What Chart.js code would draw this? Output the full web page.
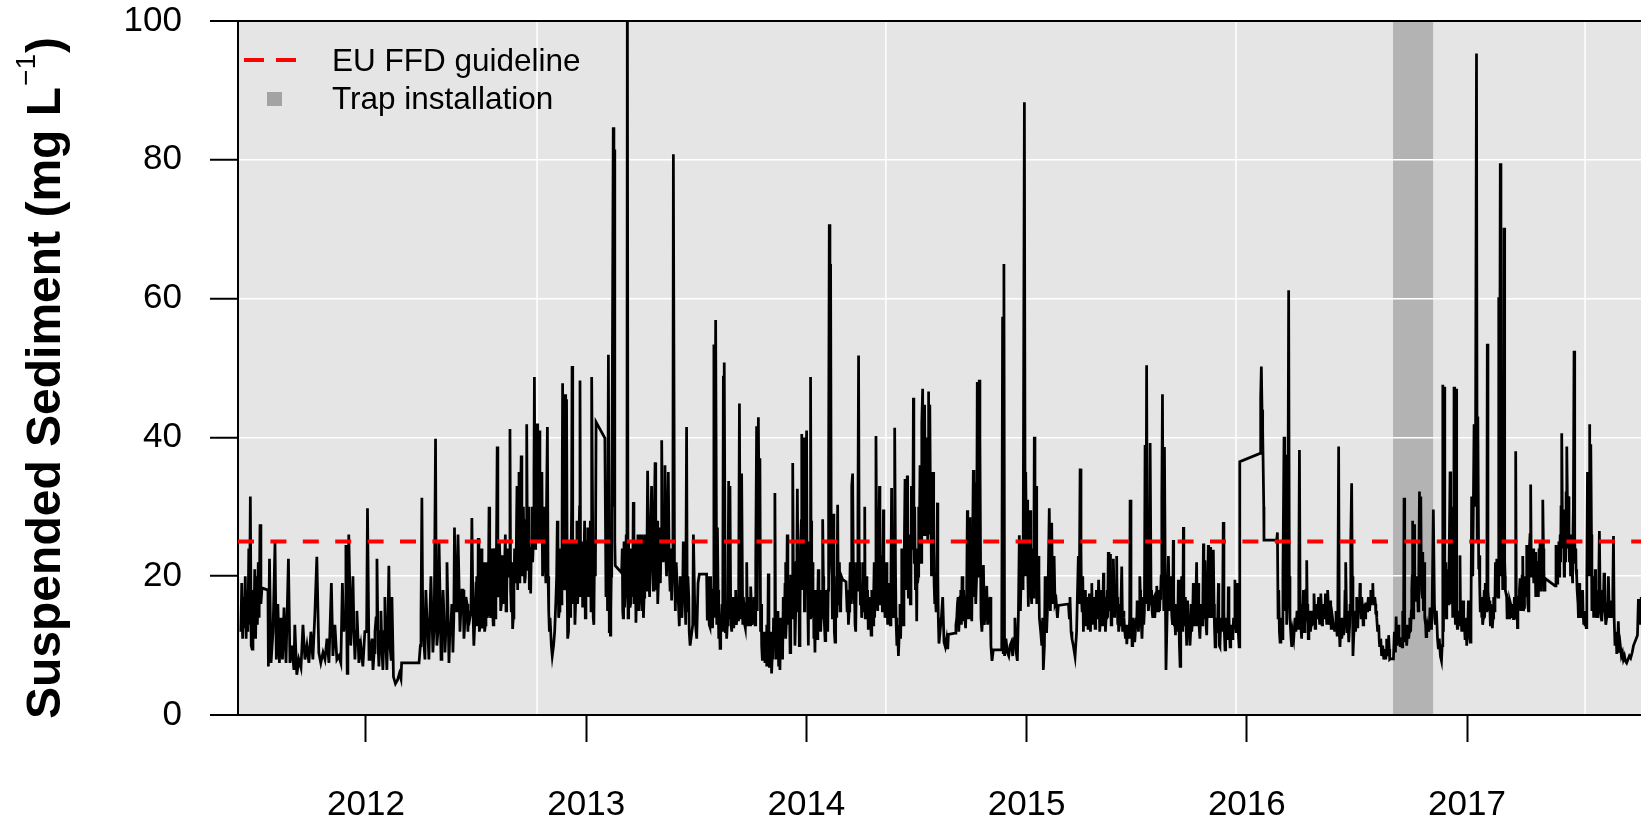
<!DOCTYPE html>
<html>
<head>
<meta charset="utf-8">
<title>Suspended sediment</title>
<script src="https://cdn.jsdelivr.net/npm/chart.js@4.4.0/dist/chart.umd.min.js"></script>
<style>
html, body { margin: 0; padding: 0; background: #ffffff; }
canvas { display: block; }
</style>
</head>
<body>
<canvas id="sedimentChart" width="1641" height="817" style="width:1641px;height:817px"></canvas>
<script>
// [decimal year, suspended sediment mg/L]
var obs2011 = [
  [2011.432,12],[2011.436,19],[2011.440,11],[2011.444,17],[2011.448,12.5],[2011.452,20],[2011.456,11],[2011.460,18],
  [2011.464,12],[2011.468,24],[2011.471,13],[2011.475,31.5],[2011.479,10],[2011.483,9.5],[2011.487,18],[2011.491,12],
  [2011.495,21],[2011.499,11],[2011.503,20],[2011.507,13],[2011.511,22],[2011.515,14],[2011.519,27.5],[2011.523,16],
  [2011.528,18.3],[2011.555,18],[2011.557,7],[2011.562,22.5],[2011.569,7.5],[2011.578,12],[2011.587,24.8],[2011.593,8],
  [2011.600,16],[2011.607,7.5],[2011.614,14],[2011.621,8],[2011.628,15.5],[2011.637,7.5],[2011.648,22.5],[2011.655,7.5],
  [2011.664,10],[2011.673,6.5],[2011.677,13],[2011.686,5.8],[2011.695,8],[2011.705,6.8],[2011.714,13],[2011.723,8],
  [2011.732,10],[2011.741,7.5],[2011.750,12],[2011.759,8],[2011.768,14.5],[2011.777,22.8],[2011.786,9],[2011.795,7.5],
  [2011.805,9],[2011.814,8],[2011.823,11],[2011.832,7.5],[2011.843,19],[2011.850,8.5],[2011.859,13],[2011.868,8],
  [2011.877,8.5],[2011.886,7.5],[2011.893,19],[2011.899,12],[2011.909,24.5],[2011.915,6],[2011.922,26],[2011.931,10],
  [2011.941,20],[2011.950,8],[2011.959,15],[2011.968,7.5],[2011.977,10],[2011.986,7],[2011.995,12],
  [2011.905,14],[2011.918,15],[2011.927,18],[2011.936,14],[2011.945,13],[2011.955,12],[2011.964,11],[2011.973,9]
];
var obs2012 = [
  [2012.007,29.8],[2012.014,8],[2012.023,10],[2012.032,6.5],[2012.041,12],[2012.050,22.5],[2012.059,7],[2012.068,15],
  [2012.077,6.5],[2012.086,17],[2012.095,6.5],[2012.104,21.5],[2012.114,8],[2012.118,17],[2012.125,5.5],[2012.134,4.5],
  [2012.143,5],[2012.152,6],[2012.159,5.2],[2012.162,7.5],[2012.241,7.5],[2012.247,10],[2012.254,31.3],[2012.260,12],
  [2012.268,8],[2012.277,14],[2012.286,8],[2012.295,20],[2012.304,9],[2012.316,39.8],[2012.322,10],[2012.332,24.8],
  [2012.341,8],[2012.350,18],[2012.359,9],[2012.368,22],[2012.377,7.5],[2012.386,13],[2012.395,9],[2012.402,27],
  [2012.409,15],[2012.418,26],[2012.427,12],[2012.436,18],[2012.445,11],[2012.454,17],[2012.463,12],[2012.472,14],
  [2012.481,28.4],[2012.490,10],[2012.500,19],[2012.506,13],[2012.510,25.5],[2012.515,12],[2012.521,18],[2012.527,12.5],
  [2012.533,20],[2012.539,12],[2012.545,22],[2012.551,14],[2012.559,30],[2012.563,16],[2012.569,24],[2012.575,15],
  [2012.581,22],[2012.587,14],[2012.596,38.7],[2012.603,18],[2012.609,22],[2012.615,16],[2012.621,20],[2012.627,17],
  [2012.633,26],[2012.639,17],[2012.645,21],[2012.654,41.2],[2012.660,15],[2012.666,12.4],[2012.672,18],[2012.678,20],
  [2012.686,33],[2012.690,21],[2012.695,35],[2012.699,19],[2012.705,37.4],[2012.712,20],[2012.718,22],[2012.724,20],
  [2012.730,41.9],[2012.736,21],[2012.742,18],[2012.748,17.5],[2012.754,30],[2012.760,25],[2012.765,48.7],[2012.771,28],
  [2012.777,42],[2012.781,30],[2012.787,41],[2012.793,25],[2012.799,35],[2012.805,22],[2012.811,26],[2012.817,19],
  [2012.824,41.5],[2012.830,15],[2012.836,14],[2012.842,10],[2012.846,8.5],[2012.852,10],[2012.857,12],[2012.863,17],
  [2012.869,28],[2012.875,14],[2012.881,22],[2012.887,16],[2012.893,47.8],[2012.899,20],[2012.904,46.2],[2012.908,26],
  [2012.911,45.5],[2012.916,11],[2012.920,12],[2012.927,20],[2012.931,18],[2012.936,50.3],[2012.942,16],[2012.949,13],
  [2012.955,22],[2012.961,16],[2012.967,25],[2012.972,48.2],[2012.978,20],[2012.984,15.5],[2012.990,22],[2012.996,14]
];
var more2012 = [
  [2012.003,12],[2012.018,9],[2012.028,11],[2012.037,9],[2012.046,14],[2012.055,10],[2012.064,12],[2012.073,9],
  [2012.082,12],[2012.091,10],[2012.100,13],[2012.109,10],
  [2012.250,14],[2012.257,18],[2012.264,10],[2012.272,18],[2012.281,12],[2012.290,14],[2012.300,14],[2012.310,13],
  [2012.319,18],[2012.327,12],[2012.337,16],[2012.345,12],[2012.355,14],[2012.364,13],[2012.372,16],[2012.381,12],
  [2012.390,16],[2012.399,14],[2012.406,18],[2012.413,17],[2012.422,20],[2012.432,16],[2012.441,18],[2012.450,14],
  [2012.459,16],[2012.467,15],[2012.477,15],[2012.486,15],[2012.495,14],
  [2012.503,20],[2012.508,14],[2012.513,21],[2012.518,13],[2012.524,24],[2012.530,13],[2012.536,22],[2012.542,13],
  [2012.548,19],[2012.555,15],[2012.561,26],[2012.566,14],[2012.572,21],[2012.578,13],[2012.584,24],[2012.590,16],
  [2012.593,25],[2012.599,17],[2012.606,25],[2012.612,15],[2012.618,23],[2012.624,16],[2012.630,22],[2012.636,15],
  [2012.642,24],[2012.650,20],[2012.657,18],[2012.663,22],[2012.669,14],[2012.675,24],[2012.681,19],[2012.684,28],
  [2012.688,18],[2012.693,28],[2012.697,22],[2012.702,30],[2012.708,22],[2012.715,30],[2012.721,19],[2012.727,28],
  [2012.733,24],[2012.739,30],[2012.745,22],[2012.751,24],[2012.757,22],[2012.763,35],[2012.768,24],[2012.774,35],
  [2012.779,25],[2012.784,36],[2012.790,28],[2012.796,30],[2012.802,20],[2012.808,30],[2012.814,22],[2012.820,30],
  [2012.827,20],[2012.833,12],[2012.866,20],[2012.872,25],[2012.878,15],[2012.884,24],[2012.890,22],[2012.896,30],
  [2012.902,18],[2012.906,32],[2012.914,18],[2012.924,25],[2012.929,14],[2012.934,30],[2012.939,22],[2012.945,25],
  [2012.952,16],[2012.958,28],[2012.964,18],[2012.970,30],[2012.975,17],[2012.981,25],[2012.987,17],[2012.993,28],
  [2012.999,20]
];
var obs2013 = [
  [2013.004,25],[2013.010,17],[2013.016,23],[2013.022,15],[2013.026,48.7],[2013.032,14],[2013.035,13],[2013.042,20],
  [2013.045,42.2],[2013.085,39.9],[2013.090,17],[2013.095,24],[2013.101,51.9],[2013.105,12],[2013.110,11.5],[2013.114,20],
  [2013.119,50],[2013.123,84.7],[2013.126,30],[2013.128,81.5],[2013.130,25],[2013.132,21.5],[2013.161,20.5],[2013.166,15],
  [2013.170,19],[2013.175,15.5],[2013.179,22],[2013.185,18],[2013.187,110],[2013.190,14],[2013.194,17],[2013.199,15.5],
  [2013.205,24],[2013.211,17],[2013.214,30.7],[2013.220,19],[2013.226,13.3],[2013.232,20],[2013.238,15],[2013.244,22],
  [2013.247,26],[2013.253,15],[2013.260,14],[2013.266,21],[2013.272,18],[2013.279,35.2],[2013.285,20],[2013.291,23],
  [2013.297,33],[2013.303,20],[2013.308,25],[2013.313,36.4],[2013.319,18],[2013.325,16],[2013.331,24],[2013.337,19],
  [2013.343,39.6],[2013.350,22],[2013.358,36],[2013.365,20],[2013.373,35],[2013.381,18],[2013.388,16.5],[2013.394,30],
  [2013.396,80.8],[2013.401,22],[2013.405,15],[2013.414,18],[2013.423,12.8],[2013.431,17],[2013.435,14],[2013.441,25],
  [2013.449,17],[2013.456,41.5],[2013.462,20],[2013.472,10],[2013.484,13],[2013.487,26],[2013.494,14],[2013.502,11],
  [2013.508,19],[2013.514,20.3],[2013.547,20.3],[2013.550,13.8],[2013.556,16],[2013.562,12.7],[2013.568,15],[2013.574,12.5],
  [2013.580,53.4],[2013.583,14],[2013.588,56.9],[2013.593,13],[2013.596,27],[2013.602,11],[2013.608,9.6],[2013.614,14],
  [2013.620,12],[2013.623,48.9],[2013.625,13],[2013.627,50.8],[2013.632,12],[2013.638,11],[2013.644,16],[2013.647,33.7],
  [2013.650,14],[2013.653,33],[2013.658,13],[2013.664,16],[2013.670,12.5],[2013.676,15],[2013.682,13],[2013.688,17],
  [2013.692,13.5],[2013.696,44.9],[2013.700,14],[2013.706,34.8],[2013.711,13],[2013.717,15],[2013.723,12.5],[2013.729,22],
  [2013.735,13],[2013.741,15],[2013.747,18.5],[2013.753,13],[2013.759,15],[2013.765,14],[2013.770,22],[2013.774,41.6],
  [2013.777,15],[2013.782,42.9],[2013.786,24],[2013.789,37],[2013.792,12],[2013.797,10],[2013.803,11],[2013.807,8],
  [2013.812,7.5],[2013.817,12],[2013.821,7],[2013.827,20.4],[2013.832,7],[2013.836,9],[2013.842,6],[2013.848,8],
  [2013.854,12],[2013.857,32],[2013.862,8],[2013.868,12],[2013.874,7],[2013.880,6.5],[2013.886,11],[2013.892,8],
  [2013.898,14],[2013.903,19],[2013.907,11],[2013.913,26],[2013.920,13],[2013.926,9],[2013.932,20],[2013.938,36.3],
  [2013.942,14],[2013.948,10],[2013.954,22],[2013.959,32.6],[2013.963,15],[2013.968,10],[2013.974,25],[2013.979,40.5],
  [2013.983,18],[2013.986,40],[2013.991,15],[2013.995,25]
];
var more2013 = [
  [2013.001,18],[2013.007,27],[2013.013,19],[2013.019,28],[2013.024,17],[2013.029,30],[2013.038,24],
  [2013.092,28],[2013.097,15],[2013.107,22],[2013.112,15],[2013.116,28],
  [2013.164,24],[2013.168,14],[2013.172,25],[2013.177,17],[2013.182,26],[2013.192,25],[2013.197,19],[2013.202,16],
  [2013.208,22],[2013.217,16],[2013.223,25],[2013.229,18],[2013.235,26],[2013.241,17],[2013.250,20],[2013.256,26],
  [2013.263,17],[2013.269,26],[2013.275,19],[2013.282,28],[2013.288,17],[2013.294,28],[2013.300,24],[2013.305,18],
  [2013.310,30],[2013.316,22],[2013.322,28],[2013.328,19],[2013.334,27],[2013.340,25],[2013.346,28],[2013.354,26],
  [2013.361,24],[2013.369,27],[2013.377,22],[2013.384,24],[2013.391,20],[2013.403,19],[2013.409,22],[2013.419,16],
  [2013.427,20],[2013.438,17],[2013.445,20],[2013.452,13],[2013.459,15],[2013.466,17],[2013.468,12],
  [2013.553,20],[2013.559,13],[2013.565,20],[2013.571,14],[2013.577,18],[2013.599,18],[2013.605,14],[2013.611,12],
  [2013.617,16],[2013.635,16],[2013.641,13],[2013.656,17],[2013.661,12],[2013.667,17],[2013.673,14],[2013.679,18],
  [2013.685,14],[2013.703,18],[2013.714,17],[2013.720,13],[2013.726,16],[2013.732,14],[2013.738,17],[2013.744,13],
  [2013.750,16],[2013.756,14],[2013.762,17],[2013.767,13],
  [2013.795,16],[2013.800,8],[2013.805,12],[2013.810,9],[2013.815,9.5],[2013.819,13],[2013.824,8],[2013.830,12],
  [2013.834,8],[2013.839,12],[2013.845,8.5],[2013.851,14],[2013.860,13],[2013.865,9],[2013.871,15],[2013.877,9],
  [2013.883,14],[2013.889,10],[2013.895,17],[2013.900,12],[2013.905,22],[2013.910,14],[2013.916,20],[2013.923,16],
  [2013.929,20],[2013.935,14],[2013.945,22],[2013.951,14],[2013.957,24],[2013.966,22],[2013.971,14],[2013.977,28],
  [2013.981,22],[2013.989,27],[2013.993,18],[2013.998,28]
];
var obs2014 = [
  [2014.001,41],[2014.006,17],[2014.009,10],[2014.015,20],[2014.019,48.7],[2014.024,18],[2014.030,14],[2014.034,11],
  [2014.039,9],[2014.045,15],[2014.050,11],[2014.054,21],[2014.059,15],[2014.065,12],[2014.069,18],[2014.074,28.2],
  [2014.079,15],[2014.085,10.7],[2014.091,16],[2014.097,12],[2014.101,36],[2014.104,70.7],[2014.107,40],[2014.110,65],
  [2014.113,22],[2014.118,14],[2014.122,29],[2014.127,12],[2014.130,10.5],[2014.135,18],[2014.139,14],[2014.142,30.3],
  [2014.147,19],[2014.153,15],[2014.159,20],[2014.165,19.5],[2014.180,19.2],[2014.185,15],[2014.191,13],[2014.197,19],
  [2014.201,16],[2014.206,33],[2014.210,34.8],[2014.215,16],[2014.221,13],[2014.225,12],[2014.231,18],[2014.234,28],
  [2014.237,51.8],[2014.240,20],[2014.245,16],[2014.251,14],[2014.257,22],[2014.262,15],[2014.265,30],[2014.269,19],
  [2014.275,14],[2014.281,12.5],[2014.287,17],[2014.294,11.5],[2014.300,15],[2014.306,18],[2014.310,14],[2014.316,40.2],
  [2014.321,17],[2014.325,24],[2014.332,33],[2014.336,16],[2014.340,23],[2014.345,15],[2014.350,29.6],[2014.354,18],
  [2014.357,14],[2014.363,22],[2014.369,13],[2014.375,16],[2014.381,13],[2014.387,32.7],[2014.392,15],[2014.398,19],
  [2014.402,41.4],[2014.407,14],[2014.411,10],[2014.418,8.5],[2014.422,12],[2014.428,11],[2014.433,24],[2014.437,14],
  [2014.443,18],[2014.448,34],[2014.452,20],[2014.458,34.5],[2014.463,17],[2014.468,22],[2014.472,16],[2014.477,33],
  [2014.481,24],[2014.486,45.7],[2014.490,22],[2014.495,18],[2014.501,13.5],[2014.505,19],[2014.510,30],[2014.516,36],
  [2014.521,22],[2014.525,42],[2014.528,47],[2014.533,28],[2014.537,44.7],[2014.542,30],[2014.546,40],[2014.551,25],
  [2014.554,46.6],[2014.558,35],[2014.561,44.7],[2014.566,28],[2014.571,22],[2014.575,35],[2014.580,19],[2014.586,17],
  [2014.592,22],[2014.595,30.6],[2014.599,14],[2014.602,10.3],[2014.613,14],[2014.619,17],[2014.625,10.5],[2014.631,9.8],
  [2014.637,11],[2014.642,9.5],[2014.645,11.6],[2014.675,11.8],[2014.679,13],[2014.686,16],[2014.692,12],[2014.698,17],
  [2014.704,13],[2014.707,20],[2014.711,13.5],[2014.717,15],[2014.723,12.5],[2014.728,18],[2014.731,29.5],[2014.735,14],
  [2014.740,28.5],[2014.745,15],[2014.751,13.5],[2014.755,25],[2014.758,35.3],[2014.763,17],[2014.766,33.5],[2014.770,16],
  [2014.776,48],[2014.781,20],[2014.785,48.3],[2014.788,40],[2014.793,14],[2014.797,12],[2014.804,21.6],[2014.808,13],
  [2014.813,15],[2014.819,18.6],[2014.823,13],[2014.828,15.5],[2014.834,17],[2014.838,10],[2014.843,7.8],[2014.849,9.4],
  [2014.887,9.4],[2014.891,57.4],[2014.894,9],[2014.897,65],[2014.900,8.5],[2014.906,11],[2014.913,9],[2014.919,8.5],
  [2014.925,10],[2014.931,10.5],[2014.937,8.5],[2014.943,11],[2014.947,14],[2014.953,9],[2014.958,7.8],[2014.963,15],
  [2014.967,25.9],[2014.972,15],[2014.978,25],[2014.984,18],[2014.990,88.3],[2014.993,30],[2014.997,35]
];
var more2014 = [
  [2014.003,22],[2014.012,25],[2014.017,14],[2014.021,28],[2014.027,22],[2014.032,18],[2014.036,14],[2014.042,18],
  [2014.048,12],[2014.052,17],[2014.057,12],[2014.062,18],[2014.067,14],[2014.072,16],[2014.077,20],[2014.082,13],
  [2014.088,18],[2014.094,14],[2014.099,18],[2014.116,20],[2014.120,16],[2014.125,20],[2014.133,14],[2014.137,20],
  [2014.145,16],[2014.150,22],[2014.156,16],[2014.188,18],[2014.194,15],[2014.199,22],[2014.204,18],[2014.213,22],
  [2014.218,19],[2014.223,17],[2014.228,22],[2014.243,22],[2014.248,19],[2014.254,17],[2014.260,19],[2014.267,14],
  [2014.272,20],[2014.278,18],[2014.284,15],[2014.290,16],[2014.297,18],[2014.303,13],[2014.308,22],[2014.313,20],
  [2014.319,25],[2014.323,15],[2014.328,22],[2014.334,20],[2014.338,22],[2014.343,20],[2014.347,22],[2014.352,22],
  [2014.360,17],[2014.366,18],[2014.372,19],[2014.378,18],[2014.384,20],[2014.390,20],[2014.395,14],[2014.400,25],
  [2014.405,20],[2014.414,13],[2014.425,16],[2014.430,15],[2014.435,20],[2014.440,13],[2014.445,25],[2014.450,18],
  [2014.455,25],[2014.460,22],[2014.465,26],[2014.470,20],[2014.475,22],[2014.479,28],[2014.484,30],[2014.488,28],
  [2014.492,30],[2014.498,24],[2014.503,22],[2014.508,20],[2014.513,25],[2014.518,28],[2014.523,30],[2014.530,32],
  [2014.535,26],[2014.539,35],[2014.544,26],[2014.548,30],[2014.553,28],[2014.556,30],[2014.560,26],[2014.563,32],
  [2014.568,20],[2014.573,20],[2014.578,24],[2014.583,16],[2014.589,15],[2014.597,20],
  [2014.683,14],[2014.689,17],[2014.695,14],[2014.701,18],[2014.714,18],[2014.720,14],[2014.726,17],[2014.733,19],
  [2014.738,18],[2014.743,20],[2014.748,17],[2014.753,20],[2014.761,22],[2014.768,24],[2014.773,20],[2014.778,30],
  [2014.783,28],[2014.791,22],[2014.800,14],[2014.995,20]
];
var obs2015 = [
  [2015.000,22],[2015.004,31],[2015.008,15.6],[2015.013,20],[2015.016,29.5],[2015.020,18],[2015.025,22.5],[2015.031,17],
  [2015.035,40.1],[2015.040,20],[2015.043,33],[2015.047,16],[2015.053,22.9],[2015.058,14],[2015.064,12],[2015.069,10],
  [2015.073,14],[2015.076,6.5],[2015.081,10],[2015.084,20],[2015.088,12],[2015.091,12],[2015.097,17],[2015.103,29.8],
  [2015.108,15],[2015.114,27.7],[2015.118,16],[2015.125,22.9],[2015.129,16],[2015.134,16.5],[2015.140,14],[2015.144,15.8],
  [2015.190,16],[2015.194,14],[2015.197,17],[2015.202,12],[2015.206,11],[2015.212,10],[2015.220,8.4],[2015.227,12],
  [2015.235,22.9],[2015.239,16],[2015.243,35.5],[2015.247,24],[2015.252,15],[2015.258,12],[2015.264,14],[2015.270,13],
  [2015.275,17],[2015.279,12.5],[2015.285,17.5],[2015.290,12],[2015.296,19],[2015.300,13],[2015.306,16],[2015.311,12.5],
  [2015.317,18],[2015.321,14],[2015.327,19.5],[2015.332,12],[2015.338,16],[2015.343,13],[2015.349,20.5],[2015.353,13],
  [2015.358,12],[2015.364,16],[2015.368,14],[2015.371,23.5],[2015.376,15],[2015.379,23.2],[2015.384,13],[2015.390,16],
  [2015.394,22.5],[2015.399,14],[2015.403,18],[2015.409,22.9],[2015.414,13],[2015.418,12],[2015.424,16],[2015.432,21.4],
  [2015.436,12],[2015.442,14],[2015.449,11],[2015.455,10.2],[2015.461,13],[2015.465,11],[2015.470,31],[2015.474,11],
  [2015.479,10],[2015.485,12],[2015.491,10.5],[2015.497,14],[2015.502,16.5],[2015.508,12],[2015.514,20],[2015.518,14],
  [2015.524,11],[2015.530,17],[2015.535,15],[2015.538,38.9],[2015.542,16],[2015.545,50.4],[2015.548,20],[2015.553,15],
  [2015.558,18],[2015.561,39.2],[2015.565,18],[2015.570,15],[2015.576,16.8],[2015.582,14],[2015.586,17],[2015.591,18.6],
  [2015.597,15],[2015.601,17],[2015.606,16.8],[2015.611,20],[2015.614,31],[2015.617,46.2],[2015.620,22],[2015.623,15],
  [2015.626,38.6],[2015.630,18],[2015.633,6.5],[2015.638,14],[2015.644,22.9],[2015.649,15],[2015.654,20],[2015.660,14],
  [2015.666,25.2],[2015.671,13],[2015.676,11.5],[2015.682,15],[2015.686,12],[2015.689,19.5],[2015.694,10],[2015.697,7],
  [2015.701,14],[2015.704,20],[2015.709,12],[2015.712,27.1],[2015.716,13],[2015.721,17],[2015.727,10],[2015.731,16.5],
  [2015.736,11],[2015.742,10],[2015.747,16],[2015.751,12],[2015.757,19],[2015.762,13],[2015.766,16],[2015.772,22],
  [2015.775,13],[2015.780,19],[2015.784,12.5],[2015.787,11],[2015.792,16],[2015.797,13],[2015.803,24.7],[2015.807,14],
  [2015.810,22.3],[2015.815,13],[2015.818,11.5],[2015.822,18],[2015.825,24.5],[2015.830,14],[2015.833,24.2],[2015.837,15],
  [2015.842,20],[2015.848,23.8],[2015.853,13],[2015.856,9.8],[2015.860,14],[2015.866,12],[2015.871,19],[2015.875,10],
  [2015.878,9.8],[2015.883,14],[2015.887,12],[2015.893,27.8],[2015.898,12],[2015.901,9.4],[2015.906,13],[2015.912,11],
  [2015.916,18.5],[2015.921,12],[2015.924,9.8],[2015.928,13],[2015.934,11],[2015.940,14],[2015.946,19.5],[2015.951,12],
  [2015.957,19],[2015.961,12],[2015.965,9.8],[2015.968,11],[2015.969,36.5]
];
var more2015 = [
  [2015.002,28],[2015.006,22],[2015.011,28],[2015.018,22],[2015.023,16],[2015.028,24],[2015.033,22],[2015.038,25],
  [2015.045,22],[2015.050,18],[2015.056,20],
  [2015.249,17],[2015.255,20],[2015.261,16],[2015.267,18],[2015.273,15],[2015.277,16],[2015.282,14],[2015.288,15],
  [2015.293,16],[2015.298,15],[2015.303,15],[2015.308,17],[2015.314,15],[2015.319,16],[2015.324,15],[2015.330,16],
  [2015.335,14],[2015.341,18],[2015.346,15],[2015.351,16],[2015.356,17],[2015.361,14],[2015.366,18],[2015.374,18],
  [2015.381,17],[2015.387,19],[2015.392,14],[2015.397,18],[2015.401,15],[2015.406,16],[2015.411,17],[2015.416,15],
  [2015.421,13],[2015.428,15],[2015.440,15],[2015.446,12],[2015.452,13],[2015.458,12],[2015.468,14],[2015.477,13],
  [2015.482,14],[2015.488,12.5],[2015.494,12],[2015.500,13],[2015.505,14],[2015.511,15],[2015.516,18],[2015.521,13],
  [2015.527,14],[2015.532,13],[2015.551,17],[2015.556,16],[2015.568,17],[2015.573,14],[2015.579,17],[2015.584,15],
  [2015.589,17],[2015.594,16],[2015.599,18],[2015.604,15],[2015.609,18],
  [2015.657,16],[2015.663,13],[2015.668,17],[2015.674,13],[2015.679,16],[2015.684,13],[2015.692,13],[2015.699,11],
  [2015.706,15],[2015.714,16],[2015.719,14],[2015.724,13],[2015.729,12],[2015.734,14],[2015.739,13],[2015.745,12],
  [2015.749,14],[2015.754,14],[2015.760,15],[2015.764,14],[2015.769,17],[2015.777,15],[2015.782,15],[2015.790,14],
  [2015.795,15],[2015.800,15],[2015.805,16],[2015.812,16],[2015.820,15],[2015.827,17],[2015.835,18],[2015.840,14],
  [2015.845,15],[2015.851,16],[2015.858,12],[2015.863,13],[2015.868,14],[2015.873,13],[2015.880,12],[2015.885,13],
  [2015.890,14],[2015.896,15],[2015.904,11],[2015.909,14],[2015.914,12],[2015.919,14],[2015.926,11],[2015.931,12],
  [2015.937,12],[2015.943,13],[2015.948,14],[2015.954,14],[2015.959,14],[2015.963,12],[2015.967,13]
];
var obs2016 = [
  [2016.060,37.7],[2016.063,45.8],[2016.066,50.2],[2016.069,44],[2016.072,41],[2016.077,30],[2016.078,25.2],[2016.136,25.2],
  [2016.139,26.3],[2016.142,14],[2016.145,18],[2016.148,12],[2016.151,10.5],[2016.155,14],[2016.160,11],[2016.164,20],
  [2016.169,40.1],[2016.172,15],[2016.175,30],[2016.178,37.5],[2016.181,13],[2016.186,20],[2016.190,61.2],[2016.193,20],
  [2016.196,14],[2016.201,11],[2016.204,9.8],[2016.208,12],[2016.213,11],[2016.219,14],[2016.223,12],[2016.228,15],
  [2016.233,12.5],[2016.236,20],[2016.239,38.2],[2016.242,16],[2016.245,13],[2016.249,11],[2016.254,14],[2016.257,18],
  [2016.261,12],[2016.266,14],[2016.269,18],[2016.272,22.3],[2016.275,14],[2016.279,11],[2016.284,13],[2016.289,12],
  [2016.295,14],[2016.299,13],[2016.305,17.5],[2016.310,12.5],[2016.314,15],[2016.320,14],[2016.326,17],[2016.331,13],
  [2016.336,17.5],[2016.342,13],[2016.346,16],[2016.352,14],[2016.357,17.5],[2016.363,13],[2016.367,18],[2016.372,13],
  [2016.378,16.5],[2016.383,12.5],[2016.389,14],[2016.393,13],[2016.399,12],[2016.405,15],[2016.410,11.5],[2016.414,14],
  [2016.417,38.7],[2016.420,12],[2016.423,9.8],[2016.428,13],[2016.432,11],[2016.437,14],[2016.441,11.5],[2016.446,18],
  [2016.450,22],[2016.455,12],[2016.460,13],[2016.464,10.5],[2016.469,16],[2016.473,25],[2016.476,33.4],[2016.479,20],
  [2016.482,8.5],[2016.485,11],[2016.490,14],[2016.494,12],[2016.499,17],[2016.504,12.5],[2016.508,15],[2016.514,19],
  [2016.519,14],[2016.523,17],[2016.528,13],[2016.532,16],[2016.537,14],[2016.541,16],[2016.546,15],[2016.552,17],
  [2016.557,15],[2016.563,18],[2016.567,16.5],[2016.572,19],[2016.576,16],[2016.581,17],[2016.586,14.5],[2016.590,14],
  [2016.594,12],[2016.599,13],[2016.603,10],[2016.608,11],[2016.612,8.5],[2016.617,10],[2016.622,8],[2016.626,9],
  [2016.631,8],[2016.635,11],[2016.640,8.5],[2016.644,11.5],[2016.649,8],[2016.653,8.1],[2016.666,8.1],[2016.670,12],
  [2016.675,9],[2016.678,14.2],[2016.682,10],[2016.687,13],[2016.691,11],[2016.696,10],[2016.700,11],[2016.705,9.8],
  [2016.709,15],[2016.714,31.3],[2016.717,10.5],[2016.722,12],[2016.726,10],[2016.731,13],[2016.735,11],[2016.740,14],
  [2016.744,12],[2016.749,18],[2016.753,28],[2016.756,14],[2016.760,27.5],[2016.764,17],[2016.769,16.5],[2016.773,20],
  [2016.778,15],[2016.784,32.2],[2016.787,20],[2016.790,31.5],[2016.794,18],[2016.799,23.5],[2016.802,15],[2016.805,22],
  [2016.809,14],[2016.814,11.3],[2016.820,13],[2016.826,12],[2016.832,15.5],[2016.837,12.5],[2016.841,14],[2016.847,29.6],
  [2016.852,16],[2016.856,13],[2016.861,15],[2016.866,11],[2016.870,9.5],[2016.874,11],[2016.879,8.5],[2016.884,7.8],
  [2016.887,10],[2016.890,47.6],[2016.893,12],[2016.897,47.3],[2016.902,18],[2016.906,14],[2016.911,21],[2016.915,16],
  [2016.920,26],[2016.923,35.1],[2016.926,16],[2016.931,30],[2016.935,14],[2016.938,18],[2016.941,47.3],[2016.944,20],
  [2016.947,13],[2016.950,47],[2016.953,14],[2016.956,12.5],[2016.961,15],[2016.965,13],[2016.968,23],[2016.973,14],
  [2016.977,12],[2016.982,16.5],[2016.986,12],[2016.991,11],[2016.996,14],[2016.999,10]
];
var more2016 = [
  [2016.247,12],[2016.251,15],[2016.259,15],[2016.264,13],[2016.277,16],[2016.282,14],[2016.287,15],[2016.292,13],
  [2016.297,15],[2016.302,14],[2016.308,15],[2016.312,14],[2016.317,16],[2016.323,15],[2016.329,14],[2016.334,16],
  [2016.339,15],[2016.344,14],[2016.349,16],[2016.355,15],[2016.360,15],[2016.365,15],[2016.370,16],[2016.375,14],
  [2016.381,15],[2016.386,13],[2016.391,14],[2016.396,13],[2016.402,13],[2016.407,13],[2016.412,12],[2016.426,12],
  [2016.430,14],[2016.435,12],[2016.439,13],[2016.444,14],[2016.448,15],[2016.453,14],[2016.458,15],[2016.462,14],
  [2016.467,13],[2016.471,15],[2016.488,13],[2016.492,15],[2016.497,14],[2016.502,14],[2016.506,16],[2016.511,15],
  [2016.516,16],[2016.521,15],[2016.526,15],[2016.530,14],[2016.535,15],[2016.539,15],[2016.544,16],[2016.549,16],
  [2016.555,16],[2016.560,16],[2016.565,17],[2016.570,17],[2016.574,17],[2016.579,16],[2016.584,16],[2016.588,15],
  [2016.592,13],[2016.596,12.5],[2016.601,11],[2016.606,10],[2016.610,10],[2016.615,9],[2016.620,9],[2016.624,8.5],
  [2016.628,9.5],[2016.633,9],[2016.638,9.5],[2016.642,9],[2016.647,9.5],
  [2016.702,11],[2016.707,12],[2016.712,13],[2016.719,13],[2016.724,12],[2016.729,11.5],[2016.733,12],[2016.738,12],
  [2016.742,13],[2016.747,15],[2016.751,20],[2016.758,18],[2016.762,22],[2016.766,18],[2016.771,18],[2016.776,17],
  [2016.781,20],[2016.792,22],[2016.797,17],[2016.807,16],[2016.812,13],[2016.817,12],[2016.823,12.5],[2016.829,13],
  [2016.835,13],[2016.839,13],
  [2016.899,16],[2016.904,22],[2016.908,16],[2016.913,17],[2016.918,20],[2016.928,20],[2016.933,20],[2016.940,16],
  [2016.958,14],[2016.963,13],[2016.970,16],[2016.975,15],[2016.979,14],[2016.984,13],[2016.988,13],[2016.993,13],
  [2016.998,12]
];
var obs2017 = [
  [2017.003,12],[2017.006,16.5],[2017.011,12],[2017.015,10.5],[2017.018,14],[2017.021,31.5],[2017.026,20],[2017.029,31],
  [2017.032,41.9],[2017.035,33],[2017.038,30],[2017.043,95.3],[2017.046,25],[2017.049,43],[2017.053,21],[2017.058,18],
  [2017.062,16],[2017.067,14],[2017.071,13],[2017.076,16],[2017.080,14],[2017.083,19],[2017.088,15],[2017.092,53.5],
  [2017.095,18],[2017.099,15],[2017.102,16.5],[2017.106,13],[2017.111,14],[2017.115,12.5],[2017.120,16],[2017.124,15],
  [2017.129,22],[2017.132,18],[2017.136,22.5],[2017.141,17],[2017.144,60.2],[2017.147,20],[2017.151,79.5],[2017.154,25],
  [2017.158,20],[2017.162,18],[2017.165,25],[2017.168,70.2],[2017.171,22],[2017.174,18],[2017.177,17.5],[2017.182,14],
  [2017.186,16],[2017.191,14],[2017.195,16.5],[2017.200,14],[2017.205,15],[2017.211,13.9],[2017.215,17],[2017.218,14],
  [2017.221,38],[2017.224,15],[2017.229,12.6],[2017.233,16],[2017.238,18],[2017.241,19.7],[2017.245,15],[2017.250,20],
  [2017.253,22.9],[2017.256,15],[2017.259,15.5],[2017.264,20],[2017.268,18],[2017.271,24.5],[2017.276,16],[2017.279,15],
  [2017.283,24],[2017.286,26],[2017.289,33.2],[2017.292,20],[2017.295,22],[2017.298,22.9],[2017.303,19],[2017.306,22],
  [2017.309,23.5],[2017.313,17],[2017.317,21],[2017.320,22.2],[2017.324,17],[2017.329,22],[2017.332,25],[2017.336,18],
  [2017.341,24],[2017.344,31],[2017.347,24],[2017.351,18],[2017.354,19.7],[2017.362,19.5],[2017.400,18.6],[2017.404,24.5],
  [2017.409,19],[2017.412,23],[2017.415,22.9],[2017.419,20],[2017.423,26],[2017.427,30],[2017.430,40.6],[2017.433,28],
  [2017.438,29.6],[2017.441,20],[2017.445,28],[2017.450,32],[2017.453,38.7],[2017.456,30],[2017.460,31.5],[2017.465,22],
  [2017.468,26],[2017.473,22],[2017.477,21],[2017.480,23],[2017.483,30],[2017.486,52.5],[2017.489,25],[2017.492,22],
  [2017.495,21],[2017.500,18],[2017.504,16],[2017.509,19],[2017.513,15],[2017.518,17.5],[2017.522,16],[2017.527,15],
  [2017.532,14],[2017.536,13],[2017.541,12.6],[2017.544,20],[2017.547,35],[2017.550,22],[2017.553,30],[2017.556,41.9],
  [2017.559,27],[2017.562,39],[2017.565,26],[2017.568,20],[2017.571,16],[2017.574,14],[2017.578,17],[2017.582,21],
  [2017.586,15],[2017.589,16.5],[2017.594,14],[2017.598,19],[2017.601,26.5],[2017.606,16],[2017.609,14],[2017.612,13.5],
  [2017.616,18],[2017.622,20.5],[2017.627,15],[2017.631,13],[2017.636,16],[2017.642,20],[2017.647,14],[2017.653,16.5],
  [2017.657,14],[2017.662,18],[2017.665,25.8],[2017.668,14],[2017.672,10],[2017.677,12],[2017.680,8.8],[2017.684,10],
  [2017.687,13.5],[2017.692,9],[2017.696,10],[2017.701,8.5],[2017.706,9],[2017.710,8],[2017.715,8.5],[2017.719,7.8],
  [2017.725,7.5],[2017.731,8],[2017.737,8.5],[2017.743,8.2],[2017.750,9],[2017.756,10],[2017.762,10.5],[2017.768,11],
  [2017.774,11.5],[2017.778,16.5],[2017.783,16.5],[2017.788,13],[2017.791,17]
];
var more2017 = [
  [2017.055,23],[2017.060,15],[2017.065,17],[2017.069,15],[2017.074,14],[2017.078,18],[2017.085,17],[2017.090,18],
  [2017.097,17],[2017.104,15],[2017.108,16],[2017.113,15],[2017.118,14],[2017.122,17],[2017.127,17],[2017.134,17],
  [2017.139,20],[2017.156,22],[2017.160,24],[2017.173,20],[2017.180,17],[2017.184,15],[2017.188,17],[2017.193,15],
  [2017.198,16],[2017.203,14],[2017.208,16],[2017.213,15],[2017.226,17],[2017.231,15],[2017.236,17],[2017.243,17],
  [2017.248,17],[2017.261,18],[2017.266,17],[2017.273,20],[2017.281,20],[2017.300,24],[2017.311,20],[2017.315,22],
  [2017.322,20],[2017.327,24],[2017.334,22],[2017.338,20],[2017.349,21],
  [2017.407,22],[2017.417,25],[2017.421,22],[2017.425,22],[2017.435,24],[2017.443,26],[2017.448,22],[2017.458,24],
  [2017.463,25],[2017.470,20],[2017.475,26],[2017.479,19],[2017.494,24],[2017.498,20],[2017.502,18],[2017.506,14],
  [2017.511,17],[2017.516,14],[2017.520,15],[2017.525,18],[2017.530,13],[2017.534,15],[2017.539,14],[2017.549,20],
  [2017.555,24],[2017.558,20],[2017.567,15],[2017.573,18],[2017.576,15],[2017.580,16],[2017.584,14],[2017.592,18],
  [2017.596,15],[2017.604,18],[2017.614,15],[2017.619,16],[2017.625,17],[2017.629,16],[2017.634,14],[2017.639,17],
  [2017.645,16],[2017.650,15],[2017.655,14],[2017.660,15]
];

var yearTicks = [2012, 2013, 2014, 2015, 2016, 2017];
var valueTicks = [0, 20, 40, 60, 80, 100];
var gridYears = [2012.777, 2014.361, 2015.951, 2017.536];
var guideline = 25;
var trapPeriod = [2016.664, 2016.846];
var xRange = [2011.419, 2017.790];

var FONT = '"Liberation Sans", Arial, Helvetica, sans-serif';

var series = [].concat(obs2011, obs2012, more2012, obs2013, more2013, obs2014, more2014,
        obs2015, more2015, obs2016, more2016, obs2017, more2017)
    .sort(function (a, b) { return a[0] - b[0]; })
    .map(function (p) { return { x: p[0], y: p[1] }; });

var panelPlugin = {
    id: 'panel',
    beforeDraw: function (chart) {
        var ctx = chart.ctx, a = chart.chartArea, xs = chart.scales.x;
        ctx.save();
        ctx.fillStyle = '#e5e5e5';
        ctx.fillRect(a.left, a.top, a.right - a.left, a.bottom - a.top);
        var x0 = xs.getPixelForValue(trapPeriod[0]);
        var x1 = xs.getPixelForValue(trapPeriod[1]);
        ctx.fillStyle = '#b3b3b3';
        ctx.fillRect(x0, a.top, x1 - x0, a.bottom - a.top);
        ctx.strokeStyle = '#ffffff';
        ctx.lineWidth = 1.5;
        gridYears.forEach(function (g) {
            var px = xs.getPixelForValue(g);
            ctx.beginPath();
            ctx.moveTo(px, a.top);
            ctx.lineTo(px, a.bottom);
            ctx.stroke();
        });
        ctx.restore();
    },
    afterDraw: function (chart) {
        var ctx = chart.ctx, a = chart.chartArea;
        ctx.save();
        // legend
        ctx.strokeStyle = '#ff0000';
        ctx.lineWidth = 4;
        ctx.setLineDash([20, 12]);
        ctx.beginPath();
        ctx.moveTo(a.left + 6, a.top + 39);
        ctx.lineTo(a.left + 59, a.top + 39);
        ctx.stroke();
        ctx.setLineDash([]);
        ctx.fillStyle = '#a3a3a3';
        ctx.fillRect(a.left + 29, a.top + 71, 15, 14);
        ctx.fillStyle = '#000000';
        ctx.font = '31.5px ' + FONT;
        ctx.textAlign = 'left';
        ctx.textBaseline = 'alphabetic';
        ctx.fillText('EU FFD guideline', a.left + 94, a.top + 50);
        ctx.fillText('Trap installation', a.left + 94, a.top + 88);

        // y axis title with superscript
        var main = 'Suspended Sediment (mg L', sup = '\u22121', close = ')';
        ctx.font = 'bold 48px ' + FONT;
        var w1 = ctx.measureText(main).width, w3 = ctx.measureText(close).width;
        ctx.font = '28px ' + FONT;
        var w2 = ctx.measureText(sup).width;
        var total = w1 + w2 + w3;
        ctx.translate(60, (a.top + a.bottom) / 2 + 11);
        ctx.rotate(-Math.PI / 2);
        var x = -total / 2;
        ctx.font = 'bold 48px ' + FONT;
        ctx.fillText(main, x, 0);
        ctx.font = '28px ' + FONT;
        ctx.fillText(sup, x + w1 + 1, -25);
        ctx.font = 'bold 48px ' + FONT;
        ctx.fillText(close, x + w1 + w2 + 2, 0);
        ctx.restore();
    }
};

var canvas = document.getElementById('sedimentChart');
var sedimentChart = new Chart(canvas, {
    type: 'line',
    data: {
        datasets: [{
            label: 'EU FFD guideline',
            data: [{ x: xRange[0], y: guideline }, { x: xRange[1], y: guideline }],
            borderColor: '#ff0000',
            borderWidth: 4,
            borderDash: [16, 16.4],
            pointRadius: 0,
            order: 0
        }, {
            label: 'Suspended sediment',
            data: series,
            borderColor: '#000000',
            borderWidth: 2.75,
            pointRadius: 0,
            tension: 0,
            order: 1
        }]
    },
    options: {
        responsive: false,
        animation: false,
        devicePixelRatio: 1,
        layout: { padding: { top: 21, right: 0, bottom: 0, left: 0 } },
        plugins: {
            legend: { display: false },
            tooltip: { enabled: false }
        },
        scales: {
            x: {
                type: 'linear',
                min: xRange[0],
                max: xRange[1],
                afterBuildTicks: function (scale) {
                    scale.ticks = yearTicks.map(function (v) { return { value: v }; });
                },
                afterFit: function (scale) {
                    scale.height = 102;
                    scale.paddingTop = 0;
                    scale.paddingBottom = 0;
                },
                border: { display: true, color: '#000000', width: 2 },
                grid: { drawOnChartArea: false, tickColor: '#000000', tickWidth: 2, tickLength: 27 },
                ticks: {
                    color: '#000000',
                    font: { family: FONT, size: 35 },
                    padding: 42,
                    maxRotation: 0,
                    autoSkip: false,
                    callback: function (v) { return String(v); }
                }
            },
            y: {
                min: 0,
                max: 100,
                afterBuildTicks: function (scale) {
                    scale.ticks = valueTicks.map(function (v) { return { value: v }; });
                },
                afterFit: function (scale) {
                    scale.width = 238;
                    scale.paddingTop = 0;
                    scale.paddingBottom = 0;
                },
                border: { display: true, color: '#000000', width: 2 },
                grid: {
                    color: function (c) {
                        var v = c.tick ? c.tick.value : null;
                        return (v === 0 || v === 100) ? '#000000' : '#ffffff';
                    },
                    lineWidth: function (c) {
                        var v = c.tick ? c.tick.value : null;
                        return (v === 0 || v === 100) ? 2 : 1.5;
                    },
                    tickColor: '#000000',
                    tickWidth: 2,
                    tickLength: 28
                },
                ticks: {
                    color: '#000000',
                    font: { family: FONT, size: 35 },
                    padding: 28
                }
            }
        }
    },
    plugins: [panelPlugin]
});
</script>
</body>
</html>
